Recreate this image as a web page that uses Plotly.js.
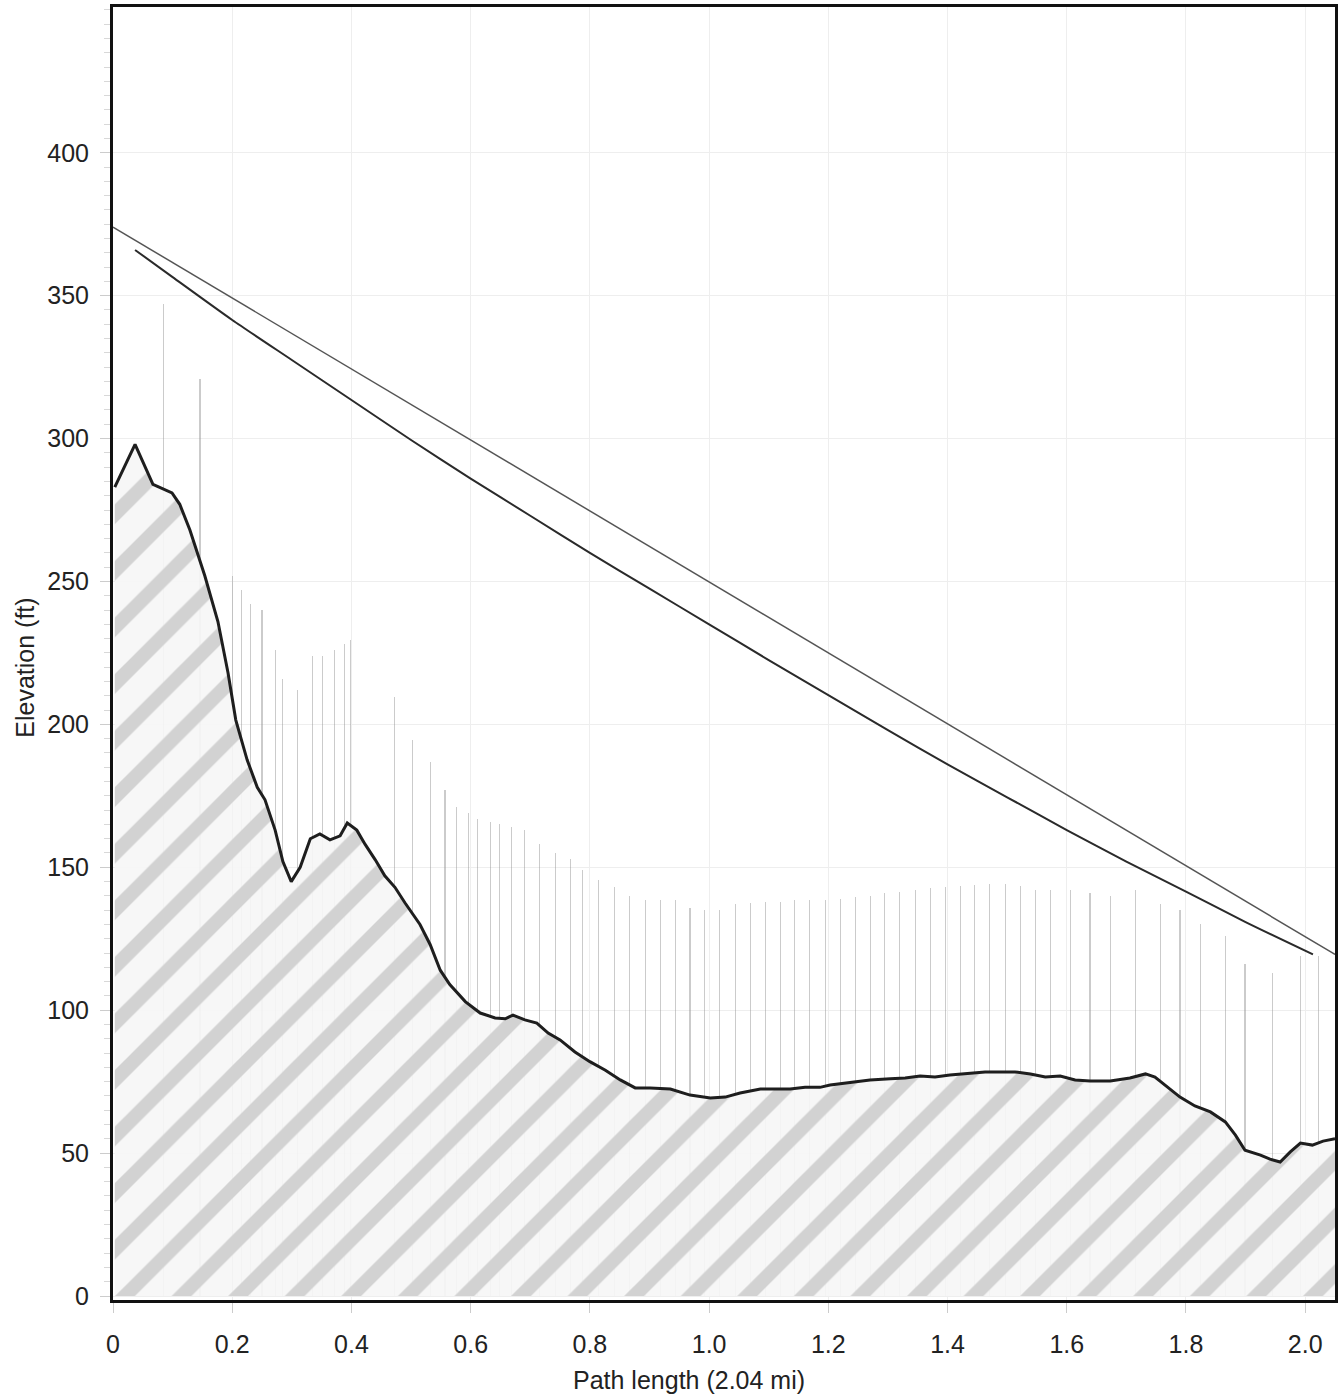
<!DOCTYPE html>
<html>
<head>
<meta charset="utf-8">
<script src="https://cdn.plot.ly/plotly-3.0.1.min.js"></script>
<style>html,body{margin:0;padding:0;background:#fff;}#chart{width:1340px;height:1395px;}</style>
</head>
<body>
<div id="chart"></div>
<script>
// Terrain profile
const terrainX = [0.003,0.037,0.067,0.084,0.099,0.112,0.129,0.154,0.176,0.193,0.206,0.225,0.242,0.255,0.272,0.285,0.299,0.314,0.331,0.347,0.364,0.381,0.393,0.409,0.423,0.440,0.456,0.473,0.490,0.515,0.532,0.549,0.565,0.591,0.616,0.641,0.658,0.671,0.691,0.711,0.730,0.750,0.775,0.800,0.826,0.851,0.876,0.901,0.935,0.968,1.002,1.027,1.052,1.086,1.136,1.161,1.186,1.203,1.220,1.245,1.270,1.304,1.329,1.354,1.379,1.404,1.438,1.463,1.488,1.513,1.539,1.564,1.589,1.614,1.639,1.673,1.706,1.732,1.748,1.765,1.790,1.815,1.841,1.866,1.883,1.899,1.925,1.941,1.958,1.975,1.992,2.012,2.030,2.050];
const terrainY = [283,298,284,282.5,281,277,268,252,236,218,201.5,187.6,178,173.6,163,152,145,150,160,161.7,159.6,161,165.5,163,158,152.6,147,143,137.5,130,123,114,109,103,99,97.3,97,98.3,96.6,95.5,92,89.6,85.4,82,79,75.6,72.8,72.8,72.4,70.3,69.3,69.6,71,72.4,72.4,73,73,73.8,74.2,74.9,75.6,76,76.3,77,76.6,77.3,78,78.4,78.4,78.4,77.7,76.6,77,75.6,75.2,75.2,76.3,77.7,76.6,73.8,69.6,66.5,64.4,60.9,56.3,51,49.3,47.9,46.9,50.4,53.5,52.8,54.2,55];

// Straight line of sight
const losX = [0, 2.05];
const losY = [374, 119.5];

// Curved (earth-curvature adjusted) line
const curveX = [0.037,0.1,0.2,0.3,0.4,0.5,0.6,0.7,0.8,0.9,1.0,1.1,1.2,1.3,1.4,1.5,1.6,1.7,1.8,1.9,2.013];
const curveY = [366,356.5,341.5,327.5,313.5,299.5,286,273,260,247.5,235,222.5,210.2,198,186,174.5,163,152,141.5,130.8,119.5];

// Clutter / obstruction heights
const clutterX = [0.084,0.146,0.201,0.215,0.230,0.250,0.272,0.285,0.310,0.334,0.352,0.372,0.389,0.398,0.473,0.502,0.532,0.557,0.577,0.596,0.612,0.633,0.649,0.669,0.691,0.716,0.742,0.767,0.787,0.814,0.842,0.867,0.893,0.918,0.943,0.968,0.993,1.018,1.044,1.069,1.094,1.119,1.144,1.169,1.195,1.220,1.245,1.270,1.295,1.320,1.346,1.371,1.396,1.421,1.446,1.471,1.497,1.522,1.547,1.572,1.606,1.639,1.673,1.715,1.757,1.790,1.824,1.866,1.899,1.945,1.992,2.022];
const clutterY = [347,321,252,247,242,240,226,216,212,224,224,226,228,229.6,209.6,194.6,187,177,171,169,167,166,165,164,163,158,155,153,149,145.6,143,140,138.6,138.6,138.6,135.8,135,135,137,137.5,138,138,138.6,138.6,138.6,139,139.6,140,141,141.4,142,142.8,143,143.5,143.8,144,144,143.5,142,142,142,141,140,142,137,135,130,126,116,113,119,119];

const xTicks = [0,0.2,0.4,0.6,0.8,1.0,1.2,1.4,1.6,1.8,2.0];
const xTickText = ['0','0.2','0.4','0.6','0.8','1.0','1.2','1.4','1.6','1.8','2.0'];

const FONT = 'Liberation Sans, Arial, sans-serif';

const traces = [
  {
    type: 'bar', x: clutterX, y: clutterY, width: 0.0018,
    marker: {color: 'rgba(140,140,140,0.45)', line: {width: 0}},
    hoverinfo: 'skip', showlegend: false
  },
  {
    type: 'scatter', mode: 'lines', x: terrainX, y: terrainY,
    fill: 'tozeroy',
    fillcolor: 'rgba(242,242,242,0.9)',
    fillpattern: {shape: '/', fgcolor: '#d2d2d2', bgcolor: 'rgba(247,247,247,0.92)', size: 40, solidity: 0.35},
    line: {color: '#1e1e1e', width: 3},
    showlegend: false
  },
  {
    type: 'scatter', mode: 'lines', x: losX, y: losY,
    line: {color: '#555', width: 1.5}, showlegend: false
  },
  {
    type: 'scatter', mode: 'lines', x: curveX, y: curveY,
    line: {color: '#2a2a2a', width: 2, shape: 'spline', smoothing: 0.6}, showlegend: false
  }
];

const layout = {
  width: 1340, height: 1395,
  margin: {l: 113, r: 5, t: 7, b: 95},
  paper_bgcolor: '#fff', plot_bgcolor: '#fff',
  font: {family: FONT, size: 25, color: '#222'},
  bargap: 0,
  xaxis: {
    range: [0, 2.05], tickvals: xTicks, ticktext: xTickText,
    showgrid: true, gridcolor: '#eeeeee', gridwidth: 1,
    showline: true, linecolor: '#111', linewidth: 3, mirror: true,
    ticks: 'outside', ticklen: 10, tickcolor: '#cccccc',
    ticklabelstandoff: 10,
    zeroline: false,
    tickfont: {family: FONT, size: 25, color: '#222'}
  },
  yaxis: {
    range: [-1.4, 451], tickvals: [0,50,100,150,200,250,300,350,400],
    showgrid: true, gridcolor: '#eeeeee', gridwidth: 1,
    showline: true, linecolor: '#111', linewidth: 3, mirror: true,
    ticks: 'outside', ticklen: 10, tickcolor: '#cccccc',
    ticklabelstandoff: 6,
    minor: {dtick: 5, ticks: 'outside', ticklen: 6, tickcolor: '#d8d8d8', showgrid: false},
    zeroline: false,
    tickfont: {family: FONT, size: 25, color: '#222'}
  },
  annotations: [
    {text: 'Path length (2.04 mi)', xref: 'paper', yref: 'paper', x: 0.471, y: -0.0615,
     xanchor: 'center', yanchor: 'middle', showarrow: false,
     font: {family: FONT, size: 25, color: '#222'}},
    {text: 'Elevation (ft)', xref: 'paper', yref: 'paper', x: -0.072, y: 0.489,
     xanchor: 'center', yanchor: 'middle', textangle: -90, showarrow: false,
     font: {family: FONT, size: 25, color: '#222'}}
  ]
};

Plotly.newPlot('chart', traces, layout, {displayModeBar: false, staticPlot: true});
</script>
</body>
</html>
